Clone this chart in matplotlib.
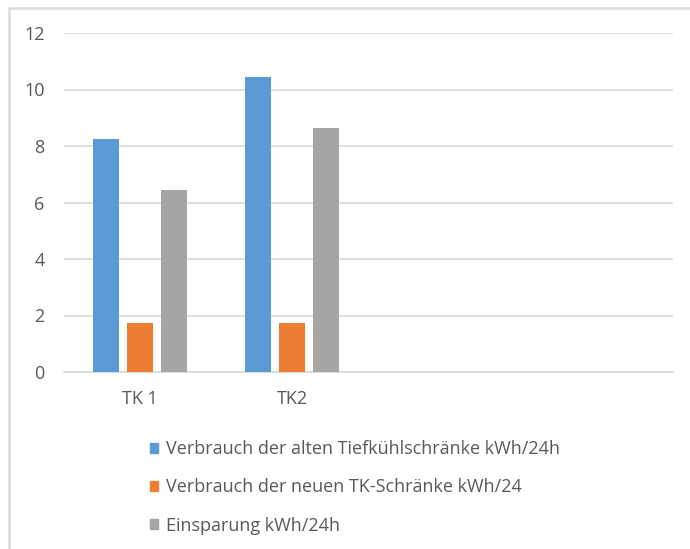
import matplotlib
matplotlib.use('Agg')
import matplotlib.pyplot as plt
from matplotlib.patches import Patch, Rectangle
import numpy as np

categories = ['TK 1', 'TK2']
alt_kwh = [8.25, 10.45]
neu_kwh = [1.75, 1.75]
einsparung = [6.45, 8.65]
series_names = ['Verbrauch der alten Tiefkühlschränke kWh/24h',
                'Verbrauch der neuen TK-Schränke kWh/24',
                'Einsparung kWh/24h']
colors = ['#5b9bd5', '#ed7d31', '#a5a5a5']

plt.rcParams['font.family'] = ['Open Sans', 'DejaVu Sans']
txt = '#595959'
grid = '#d9d9d9'

fig = plt.figure(figsize=(6.9, 5.49), dpi=100)
ax = fig.add_axes([64/690, 1 - 372/549, (673 - 64)/690, (372 - 33)/549])

x = np.arange(len(categories))
w = 0.171
step = 0.224
for i, vals in enumerate([alt_kwh, neu_kwh, einsparung]):
    ax.bar(x + (i - 1)*step, vals, width=w, color=colors[i], zorder=3)

ax.set_xlim(-0.5, 3.5)
ax.set_ylim(0, 12)
ax.set_yticks(range(0, 13, 2))
ax.set_xticks(x)
ax.set_xticklabels(categories)
ax.yaxis.grid(True, color=grid, lw=1.2, zorder=0)
for s in ['top', 'right', 'left']:
    ax.spines[s].set_visible(False)
ax.spines['bottom'].set_color(grid)
ax.spines['bottom'].set_linewidth(1.2)
ax.tick_params(axis='both', length=0, colors=txt, labelsize=13)
ax.tick_params(axis='y', pad=14)
ax.tick_params(axis='x', pad=13)

handles = [Patch(color=c) for c in colors]
fig.legend(handles, series_names, loc='upper left',
           bbox_to_anchor=(134/690, 1 - 424/549), frameon=False,
           fontsize=13, labelcolor=txt, handlelength=0.45, handleheight=0.45,
           handletextpad=0.45, labelspacing=1.12)

fig.patches.append(Rectangle((9/690, -0.05), 1.1, 1 - 7.5/549 + 0.05,
                             transform=fig.transFigure, fill=False,
                             edgecolor='#d9d9d9', lw=1.8))

fig.savefig('out.png', dpi=100)
